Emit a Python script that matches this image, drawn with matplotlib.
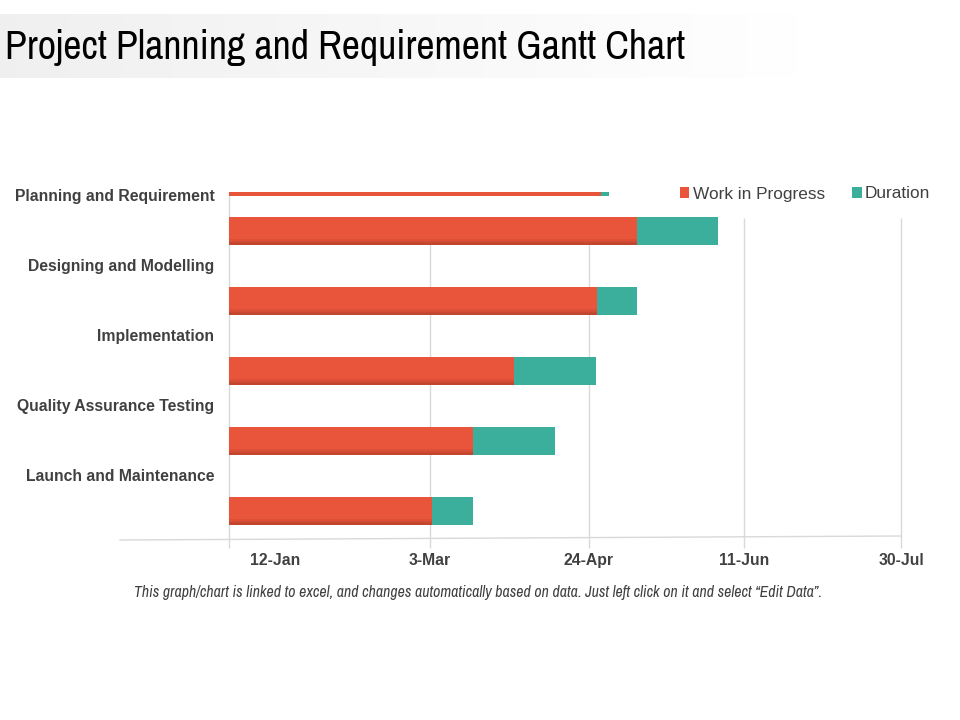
import numpy as np
import matplotlib
matplotlib.use("Agg")
import matplotlib.pyplot as plt
from matplotlib import font_manager
from matplotlib.lines import Line2D
from matplotlib.transforms import ScaledTranslation

# data (days counted from 12-Jan)
tasks = ["Planning and Requirement", "Designing and Modelling", "Implementation",
         "Quality Assurance Testing", "Launch and Maintenance"]
bar_pos = [-0.01, 0.514, 1.514, 2.514, 3.514, 4.514]
bar_height = [0.06, 0.39, 0.39, 0.39, 0.39, 0.39]
start_day = [0, 0, 0, 0, 0, 0]
work_in_progress = [110.2, 120.8, 109.0, 84.4, 72.3, 60.1]
duration = [2.3, 24.0, 11.8, 24.3, 24.2, 12.2]
tick_days = [0, 59.5, 106.6, 152.5, 199]
tick_labels = ["12-Jan", "3-Mar", "24-Apr", "11-Jun", "30-Jul"]

red = "#E9553B"
red_dark = "#8E3020"
teal = "#3BAF9B"
txt = "#404040"
grid_c = "#d9d9d9"

# look for a condensed face, else plain Liberation Sans
narrow = None
for f in font_manager.fontManager.ttflist:
    if "Narrow" in f.name or "Condensed" in f.name:
        narrow = f.name
        break
if narrow:
    title_font, title_size = narrow, 28.8
    note_font, note_size = narrow, 11.4
else:
    title_font, title_size = "Liberation Sans", 24
    note_font, note_size = "Liberation Sans", 9.4

fig = plt.figure(figsize=(9.6, 7.2), dpi=100)
fig.patch.set_facecolor("white")

# title banner (light gray fade)
bax = fig.add_axes([0, 1 - 78 / 720, 800 / 960, 64 / 720])
grad = np.linspace(0.94, 1.0, 256).reshape(1, -1)
bax.imshow(np.dstack([grad, grad, grad]), aspect="auto", extent=[0, 1, 0, 1])
bax.axis("off")
fig.text(5 / 960, 1 - 48 / 720, "Project Planning and Requirement Gantt Chart",
         fontsize=title_size, family=title_font, color="black",
         ha="left", va="center")

ax = fig.add_axes([229 / 960, 1 - 538 / 720, 672 / 960, 353 / 720])
ax.set_xlim(0, 199)
ax.set_ylim(4.9, -0.143)

# gridlines
ax.vlines(tick_days[1:], 0.33, 5.04, color=grid_c, lw=1, clip_on=False, zorder=0)
ax.vlines([0], -0.05, 5.04, color=grid_c, lw=1, clip_on=False, zorder=0)

ax.barh(bar_pos, work_in_progress, left=start_day, height=bar_height,
        color=red, label="Work in Progress", zorder=2)
ax.barh(bar_pos, duration, left=np.array(start_day) + np.array(work_in_progress),
        height=bar_height, color=teal, label="Duration", zorder=2)
# soft darker lower edge on the red bars, like the shaded original
for k in range(4):
    sh = [h * 0.05 * (k + 1) if h > 0.1 else 0 for h in bar_height]
    ax.barh(np.array(bar_pos) + np.array(bar_height) / 2 - np.array(sh) / 2,
            work_in_progress, left=start_day, height=sh, color=red_dark,
            alpha=0.12, lw=0, zorder=3)

for s in ax.spines.values():
    s.set_visible(False)

ax.set_yticks(range(len(tasks)))
ax.set_yticklabels(tasks, fontsize=11.3, fontweight="bold", color=txt,
                   family="Liberation Sans")
ax.tick_params(axis="y", length=0, pad=10.5)

ax.set_xticks(tick_days)
ax.set_xticklabels(tick_labels, fontsize=11.3, fontweight="bold", color=txt,
                   family="Liberation Sans")
ax.tick_params(axis="x", length=0, pad=11)
first = ax.get_xticklabels()[0]
first.set_transform(first.get_transform() + ScaledTranslation(46 / 100, 0, fig.dpi_scale_trans))

# bottom axis line
fig.add_artist(Line2D([120 / 960, 901 / 960], [1 - 540 / 720, 1 - 536 / 720],
                      color=grid_c, lw=1))

leg = ax.legend(loc="center right", bbox_to_anchor=(946 / 960, 1 - 194 / 720),
                bbox_transform=fig.transFigure, ncol=2, frameon=False,
                handlelength=0.55, handleheight=0.55, handletextpad=0.2,
                columnspacing=1.6, prop={"family": "Liberation Sans", "size": 12.4})
for t in leg.get_texts():
    t.set_color(txt)

fig.text(478 / 960, 1 - 593 / 720,
         "This graph/chart is linked to excel, and changes automatically based on data. "
         "Just left click on it and select \u201cEdit Data\u201d.",
         fontsize=note_size, style="italic", family=note_font, color=txt,
         ha="center", va="center")

fig.savefig("out.png", dpi=100)
